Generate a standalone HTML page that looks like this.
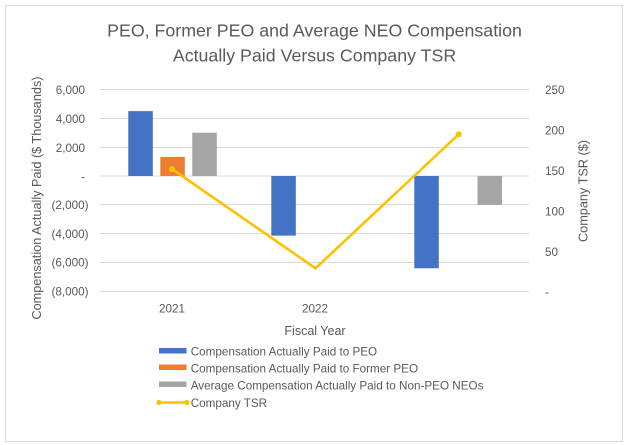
<!DOCTYPE html>
<html>
<head>
<meta charset="utf-8">
<style>
  html,body{margin:0;padding:0;background:#fff;}
  svg{display:block;}
  text{font-family:"Liberation Sans", Arial, sans-serif;fill:#595959;}
</style>
</head>
<body>
<svg width="632" height="445" viewBox="0 0 632 445" xmlns="http://www.w3.org/2000/svg">
  <rect x="0" y="0" width="632" height="445" fill="#fff"/>
  <rect x="5.5" y="5.5" width="617" height="436" fill="#fff" stroke="#D9D9D9" stroke-width="1"/>

  <!-- Title -->
  <text x="314.5" y="36.7" font-size="17.8" text-anchor="middle">PEO, Former PEO and Average NEO Compensation</text>
  <text x="314.5" y="61.7" font-size="17.8" text-anchor="middle">Actually Paid Versus Company TSR</text>

  <!-- Gridlines -->
  <g stroke="#D9D9D9" stroke-width="1">
    <line x1="100" y1="89.5" x2="529" y2="89.5"/>
    <line x1="100" y1="118.5" x2="529" y2="118.5"/>
    <line x1="100" y1="147.5" x2="529" y2="147.5"/>
    <line x1="100" y1="176" x2="529" y2="176"/>
    <line x1="100" y1="204.5" x2="529" y2="204.5"/>
    <line x1="100" y1="233.5" x2="529" y2="233.5"/>
    <line x1="100" y1="262.5" x2="529" y2="262.5"/>
    <line x1="100" y1="291.5" x2="529" y2="291.5"/>
  </g>

  <!-- Left axis labels -->
  <g font-size="11.7">
    <text x="85" y="94.2" text-anchor="end">6,000</text>
    <text x="85" y="123" text-anchor="end">4,000</text>
    <text x="85" y="151.8" text-anchor="end">2,000</text>
    <text x="85" y="180.4" text-anchor="end">-</text>
    <text x="88.5" y="209" text-anchor="end">(2,000)</text>
    <text x="88.5" y="237.8" text-anchor="end">(4,000)</text>
    <text x="88.5" y="266.6" text-anchor="end">(6,000)</text>
    <text x="88.5" y="295.5" text-anchor="end">(8,000)</text>
  </g>

  <!-- Right axis labels -->
  <g font-size="11.7">
    <text x="545" y="94.2">250</text>
    <text x="545" y="134.6">200</text>
    <text x="545" y="175">150</text>
    <text x="545" y="215.4">100</text>
    <text x="545" y="255.8">50</text>
    <text x="545" y="296">-</text>
  </g>

  <!-- Axis titles -->
  <text transform="translate(41,198) rotate(-90)" font-size="12.7" text-anchor="middle">Compensation Actually Paid  ($ Thousands)</text>
  <text transform="translate(587.5,191) rotate(-90)" font-size="12.7" text-anchor="middle">Company TSR ($)</text>

  <!-- Bars -->
  <rect x="128.3" y="111.1" width="24.5" height="64.9" fill="#4472C4"/>
  <rect x="160.3" y="156.9" width="24.5" height="19.1" fill="#ED7D31"/>
  <rect x="192.3" y="132.7" width="24.5" height="43.3" fill="#A5A5A5"/>

  <rect x="271.3" y="176" width="24.5" height="59.6" fill="#4472C4"/>

  <rect x="414.3" y="176" width="24.5" height="92.3" fill="#4472C4"/>
  <rect x="477.5" y="176" width="24.5" height="28.9" fill="#A5A5A5"/>

  <!-- TSR line -->
  <polyline points="172,169 315.5,268.3 458.7,134.3" fill="none" stroke="#FFC000" stroke-width="2.6" stroke-linejoin="miter"/>
  <circle cx="172" cy="169" r="3" fill="#FFC000"/>
  <circle cx="458.7" cy="134.3" r="3" fill="#FFC000"/>

  <!-- X labels -->
  <g font-size="11.7">
    <text x="172" y="312.5" text-anchor="middle">2021</text>
    <text x="315" y="312.5" text-anchor="middle">2022</text>
  </g>
  <text x="315" y="335" font-size="12.5" text-anchor="middle">Fiscal Year</text>

  <!-- Legend -->
  <rect x="159" y="348" width="27.5" height="5.5" fill="#4472C4"/>
  <text x="190.7" y="355.5" font-size="11.7">Compensation Actually Paid to PEO</text>
  <rect x="159" y="364.5" width="27.5" height="5.5" fill="#ED7D31"/>
  <text x="190.7" y="372.3" font-size="11.7">Compensation Actually Paid to Former PEO</text>
  <rect x="159" y="381.5" width="27.5" height="5.5" fill="#A5A5A5"/>
  <text x="190.7" y="389.3" font-size="11.7">Average Compensation Actually Paid to Non-PEO NEOs</text>
  <line x1="159" y1="402.5" x2="187" y2="402.5" stroke="#FFC000" stroke-width="2.6"/>
  <circle cx="159" cy="402.5" r="2.6" fill="#FFC000"/>
  <circle cx="187" cy="402.5" r="2.6" fill="#FFC000"/>
  <text x="190.7" y="407" font-size="11.7">Company TSR</text>
</svg>
</body>
</html>
